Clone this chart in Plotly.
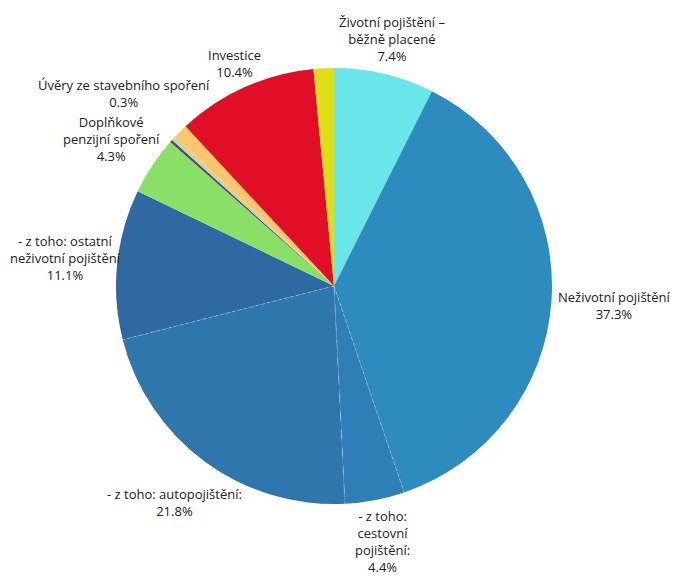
import math
import plotly.graph_objects as go

# slices clockwise from 12 o'clock
labels = [
    "Životní pojištění – běžně placené",
    "Neživotní pojištění",
    "- z toho: cestovní pojištění:",
    "- z toho: autopojištění:",
    "- z toho: ostatní neživotní pojištění",
    "Doplňkové penzijní spoření",
    "Ostatní",
    "Úvěry ze stavebního spoření",
    "Penzijní připojištění",
    "Investice",
    "Životní pojištění – jednorázově placené",
]
# label lines as wrapped in the chart (empty = no label shown)
label_lines = [
    ["Životní pojištění –", "běžně placené"],
    ["Neživotní pojištění"],
    ["- z toho:", "cestovní", "pojištění:"],
    ["- z toho: autopojištění:"],
    ["- z toho: ostatní", "neživotní pojištění"],
    ["Doplňkové", "penzijní spoření"],
    [],
    ["Úvěry ze stavebního spoření"],
    [],
    ["Investice"],
    [],
]
shares = [7.4, 37.3, 4.4, 21.8, 11.1, 4.3, 0.2, 0.3, 1.1, 10.4, 1.5]
colors = ["#6ae6e8", "#2e8bbd", "#2d7fb5", "#2f76ad", "#2e69a2", "#8ae067",
          "#5a3f7e", "#c8d79b", "#ffc66e", "#e00f26", "#dde016"]

W, H = 691, 578
R = 218            # pie radius in px
CX, CY = 326, 278  # pie centre in px from top-left
dom_x = [(CX - R) / W, (CX + R) / W]
dom_y = [1 - (CY + R) / H, 1 - (CY - R) / H]

fig = go.Figure(go.Pie(
    labels=labels,
    values=shares,
    textinfo="none",
    automargin=False,
    hoverinfo="label+percent",
    sort=False,
    direction="clockwise",
    rotation=0,
    marker=dict(colors=colors, line=dict(width=0)),
    domain=dict(x=dom_x, y=dom_y),
    showlegend=False,
))

total = sum(shares)


def polar_px(dist, ang):
    # ang in degrees clockwise from 12 o'clock -> px from top-left
    a = math.radians(ang)
    return CX + dist * math.sin(a), CY - dist * math.cos(a)


# outside labels, centred on each slice's bisector
char_w, line_h, pad = 6.0, 18, 6
cum = 0
for lines, v in zip(label_lines, shares):
    mid = (cum + v / 2) / total * 360
    cum += v
    if not lines:
        continue
    hw = max(len(s) for s in lines) * char_w / 2
    hh = (len(lines) + 1) * line_h / 2
    a = math.radians(mid)
    ext = math.hypot(hw * math.sin(a), hh * math.cos(a))
    px, py = polar_px(R + pad + ext, mid)
    px = min(max(px, hw), W - hw)  # keep the label inside the page
    fig.add_annotation(
        x=px / W, y=1 - py / H, xref="paper", yref="paper",
        text="<br>".join(lines + [f"{v:.1f}%"]),
        showarrow=False, align="center",
        xanchor="center", yanchor="middle",
        font=dict(family="Open Sans", size=13, color="#222222"),
    )

# faint dashed borders between the "z toho" sub-slices
cum = sum(shares[:2])
for i, dash in [(2, "dot"), (3, "dash"), (4, "dot")]:
    ang = cum / total * 360
    cum += shares[i]
    ex, ey = polar_px(R, ang)
    fig.add_shape(type="line", xref="paper", yref="paper",
                  x0=CX / W, y0=1 - CY / H, x1=ex / W, y1=1 - ey / H,
                  line=dict(color="rgba(255,255,255,0.35)", width=1, dash=dash))

fig.update_layout(
    width=W, height=H,
    margin=dict(l=0, r=0, t=0, b=0, autoexpand=False),
    paper_bgcolor="white",
    plot_bgcolor="white",
)

fig.write_html("out.html")
